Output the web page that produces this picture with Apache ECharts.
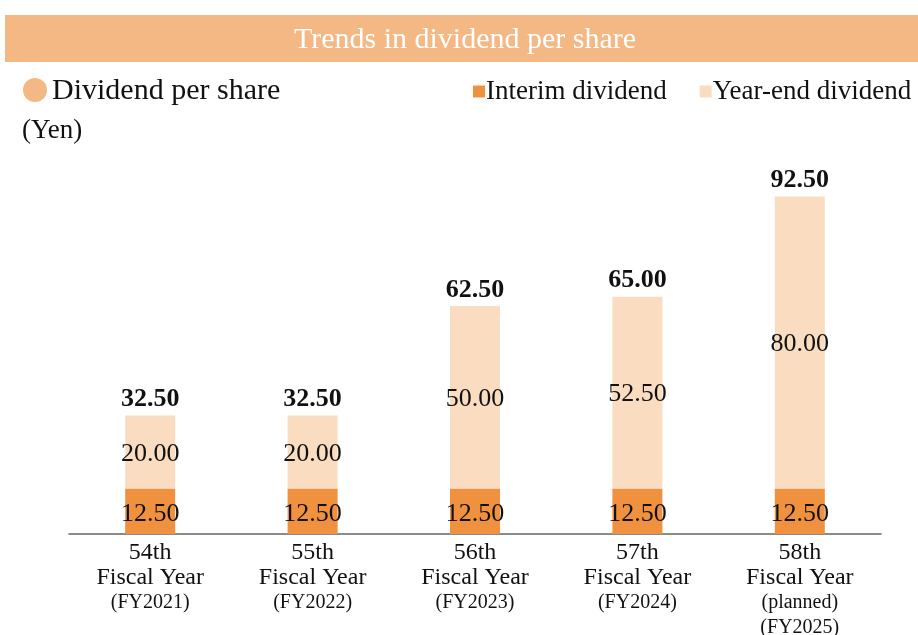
<!DOCTYPE html>
<html>
<head>
<meta charset="utf-8">
<script src="https://cdn.jsdelivr.net/npm/echarts@6/dist/echarts.min.js"></script>
<style>
  html, body { margin: 0; padding: 0; background: #fff; }
  #chart { width: 918px; height: 635px; }
</style>
</head>
<body>
<div id="chart"></div>
<script>
// data
const ordinals = ['54th', '55th', '56th', '57th', '58th'];
const fyLabels = ['(FY2021)', '(FY2022)', '(FY2023)', '(FY2024)', '(planned)\n(FY2025)'];
const interim = [12.5, 12.5, 12.5, 12.5, 12.5];
const yearEnd = [20.0, 20.0, 50.0, 52.5, 80.0];
const totals = [32.5, 32.5, 62.5, 65.0, 92.5];

const serif = '"Liberation Serif", "DejaVu Serif", serif';
const categories = ordinals.map((o, i) => o + '|' + fyLabels[i]);

let myChart = echarts.init(document.getElementById('chart'));

myChart.setOption({
    animation: false,
    textStyle: { fontFamily: serif },
    graphic: [
        { type: 'rect', shape: { x: 5, y: 15, width: 913, height: 47 }, style: { fill: '#F4B885' } },
        { type: 'text', x: 465, y: 40, style: { text: 'Trends in dividend per share', fill: '#fff', font: '30px ' + serif, align: 'center', verticalAlign: 'middle' } },
        { type: 'circle', shape: { cx: 35, cy: 90, r: 12 }, style: { fill: '#F4B885' } },
        { type: 'text', x: 52, y: 91, style: { text: 'Dividend per share', fill: '#111', font: '30px ' + serif, verticalAlign: 'middle' } },
        { type: 'text', x: 22, y: 131, style: { text: '(Yen)', fill: '#111', font: '27px ' + serif, verticalAlign: 'middle' } }
    ],
    legend: {
        left: 468,
        top: 73,
        icon: 'rect',
        itemWidth: 12,
        itemHeight: 12,
        itemGap: 33,
        textStyle: { fontSize: 27, color: '#111', fontFamily: serif, padding: [0, 0, 0, -4] },
        data: ['Interim dividend', 'Year-end dividend']
    },
    grid: { left: 69, right: 37, top: 169, bottom: 101, outerBoundsMode: 'none', containLabel: false },
    xAxis: {
        type: 'category',
        data: categories,
        axisTick: { show: false },
        axisLine: { lineStyle: { color: '#666', width: 1.5 } },
        axisLabel: {
            margin: 6,
            interval: 0,
            formatter: v => {
                const [ord, fy] = v.split('|');
                const fyLines = fy.split('\n').map(s => '{c|' + s + '}').join('\n');
                return '{a|' + ord + '}\n{b|Fiscal Year}\n' + fyLines;
            },
            rich: {
                a: { fontSize: 24, lineHeight: 25, color: '#111', fontFamily: serif },
                b: { fontSize: 24, lineHeight: 25, color: '#111', fontFamily: serif },
                c: { fontSize: 20, lineHeight: 25, color: '#111', fontFamily: serif }
            }
        }
    },
    yAxis: {
        type: 'value',
        min: 0,
        max: 100,
        show: false,
        splitLine: { show: false }
    },
    series: [
        {
            name: 'Interim dividend',
            type: 'bar',
            stack: 'div',
            barWidth: 50,
            data: interim,
            itemStyle: { color: '#F0913F' },
            label: { show: true, position: 'inside', offset: [0, 3], formatter: p => p.value.toFixed(2), fontSize: 26, color: '#111', fontFamily: serif }
        },
        {
            name: 'Year-end dividend',
            type: 'bar',
            stack: 'div',
            barWidth: 50,
            data: yearEnd,
            itemStyle: { color: '#FADDC0' },
            label: { show: true, position: 'inside', offset: [0, 2], formatter: p => p.value.toFixed(2), fontSize: 26, color: '#111', fontFamily: serif }
        },
        {
            name: 'Total',
            type: 'bar',
            barWidth: 50,
            barGap: '-100%',
            z: 0,
            data: totals,
            itemStyle: { color: 'rgba(0,0,0,0)' },
            label: { show: true, position: 'top', distance: 3, formatter: p => p.value.toFixed(2), fontSize: 26, fontWeight: 'bold', color: '#111', fontFamily: serif },
            tooltip: { show: false }
        }
    ]
});
</script>
</body>
</html>
